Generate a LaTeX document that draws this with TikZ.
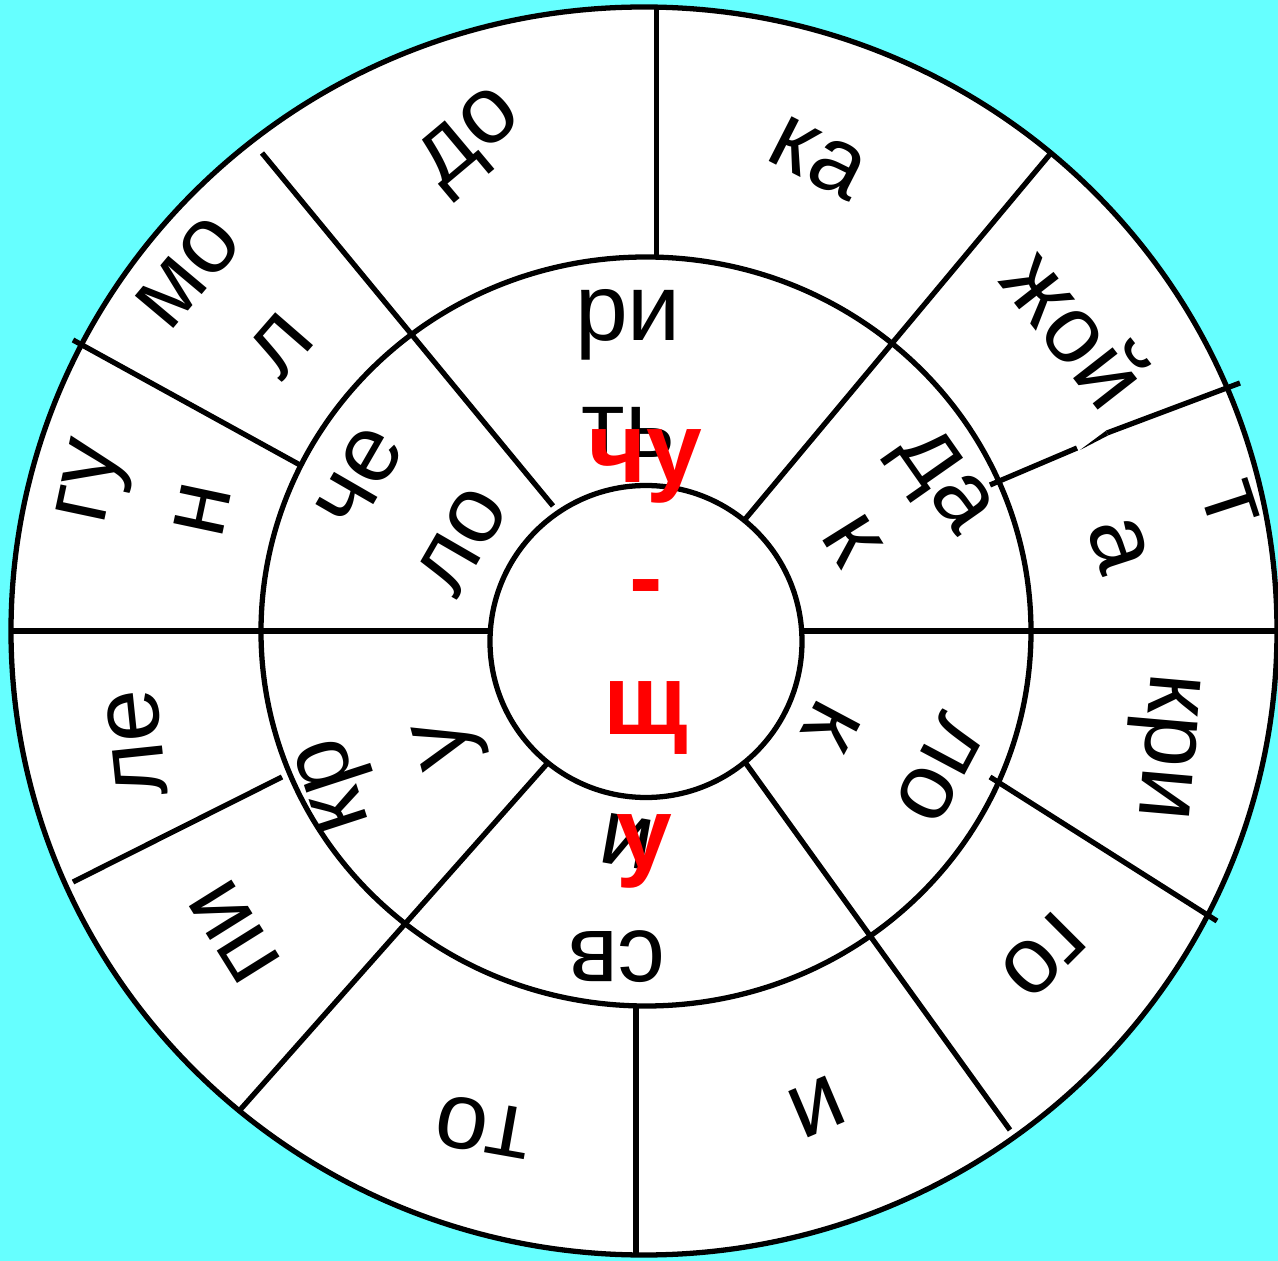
\documentclass[tikz,border=0pt]{standalone}
\usepackage{fontspec}
\setmainfont{Liberation Sans}
\definecolor{cyanbg}{RGB}{102,255,255}
\definecolor{redtxt}{RGB}{255,0,0}
\begin{document}
\begin{tikzpicture}[x=0.01cm,y=-0.01cm,line width=1.5pt,
  lbl/.style={inner sep=0pt,font=\fontsize{27}{30}\selectfont},
  redlbl/.style={inner sep=0pt,text=redtxt,font=\fontsize{28.5}{32}\selectfont\bfseries}]
\fill[cyanbg] (0,0) rectangle (1278,1261);
\useasboundingbox (0,0) rectangle (1278,1261);
% outer disc
\filldraw[fill=white] (644,631) ellipse [x radius=633, y radius=624];
% dividers
\draw (656.5,8) -- (656.5,257);
\draw (636,1006) -- (636,1255);
\draw (262,153) -- (553,506);
\draw (1051,153) -- (742,523);
\draw (73,340) -- (300,465);
\draw (1240,383) -- (1107,433);
\fill (1106.2,430.6) -- (1107.8,435.6) -- (1080,450) -- cycle;
\draw (1077,448) -- (990,485);
\draw (73,882) -- (282,777);
\draw (990,777) -- (1217,921);
\draw (240,1110) -- (553,757);
\draw (742,758) -- (1010,1130);
\draw (11,631) -- (490.4,631);
\draw (801.6,631) -- (1278,631);
% circles
\draw (646,631.5) ellipse [x radius=385, y radius=374.5];
\filldraw[fill=white] (646,641.5) circle [radius=156];
% outer ring texts
\node[lbl,rotate=40] (do) at (473,142) {до};
\node[lbl,rotate=-27] (ka) at (818,158) {ка};
\node[lbl,rotate=50] (mo) at (188,272) {мо};
\node[lbl,rotate=49] (l1) at (281,345) {л};
\node[lbl,rotate=78] (gu) at (97,483) {гу};
\node[lbl,rotate=78] (n1) at (202,510) {н};
\node[lbl,rotate=96] (le) at (137,743) {ле};
\node[lbl,rotate=122] (pi) at (235,932) {пи};
\node[lbl,rotate=170] (to) at (483,1127) {то};
\node[lbl,rotate=203] (i1) at (817,1107) {и};
\node[lbl,rotate=225] (go) at (1043,955) {го};
\node[lbl,rotate=-95] (kri) at (1161,746) {кри};
\node[lbl,rotate=-72] (t1) at (1230,504) {т};
\node[lbl,rotate=-72] (a1) at (1119,545) {а};
\node[lbl,rotate=-52] (zhoy) at (1077,327) {жой};
% middle ring texts
\node[lbl] (ri) at (628,325) {ри};
\node[lbl] (tsoft) at (628,432) {ть};
\node[lbl,rotate=60] (che) at (360,478) {че};
\node[lbl,rotate=60] (lo1) at (462,541) {ло};
\node[lbl,rotate=-55] (da) at (940,484) {да};
\node[lbl,rotate=-58] (k1) at (852,540) {к};
\node[lbl,rotate=-118] (k2) at (832,726) {к};
\node[lbl,rotate=-118] (lo2) at (940,769) {ло};
\node[lbl,rotate=180] (sv) at (617,957) {св};
\node[lbl,rotate=170] (i2) at (627,842) {и};
\node[lbl,rotate=105] (u1) at (451,742) {у};
\node[lbl,rotate=108] (kr) at (340,783) {кр};
% red centre
\node[redlbl] (chu) at (645,466) {чу};
\node[redlbl] (dash) at (646,596) {-};
\node[redlbl] (shch) at (646,718) {щ};
\node[redlbl] (u2) at (644,851) {у};
\end{tikzpicture}
\end{document}
